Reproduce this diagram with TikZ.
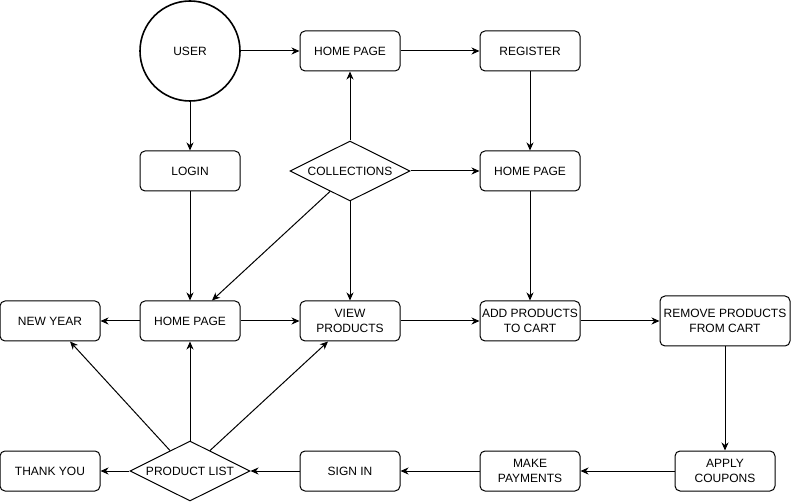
\documentclass[tikz,border=0pt]{standalone}
\usepackage{fontspec}
\setmainfont{Liberation Sans}
\usepackage{tikz}
\usetikzlibrary{arrows.meta,shapes,positioning,calc}

\begin{document}
\begin{tikzpicture}[x=1pt, y=-1pt, line width=1pt,
    >={Stealth[length=8pt,width=7pt,inset=2.5pt]},
    every node/.style={font=\fontsize{12}{14.4}\selectfont, align=center},
    box/.style={draw, rectangle, rounded corners=5pt, minimum width=100pt, minimum height=40pt, inner sep=1pt},
    decision/.style={draw, diamond, aspect=2, inner sep=0pt, minimum width=120pt, minimum height=60pt}]
\useasboundingbox (0,0) rectangle (792,502);

% Start
\node[draw, circle, line width=1.6pt, minimum size=100pt] (user) at (190,51) {USER};

% Top rows
\node[box] (home1) at (350,51) {HOME PAGE};
\node[box] (register) at (530,51) {REGISTER};
\node[box] (login) at (190,171) {LOGIN};
\node[decision] (collections) at (350,171) {COLLECTIONS};
\node[box] (home2) at (530,171) {HOME PAGE};

% Middle row
\node[box] (newyear) at (50,321) {NEW YEAR};
\node[box] (home3) at (190,321) {HOME PAGE};
\node[box] (view) at (350,321) {VIEW\\PRODUCTS};
\node[box] (addcart) at (530,321) {ADD PRODUCTS\\TO CART};
\node[box, minimum width=130pt, minimum height=50pt] (remove) at (725,321) {REMOVE PRODUCTS\\FROM CART};

% Bottom row
\node[box] (thankyou) at (50,471) {THANK YOU};
\node[decision] (plist) at (190,471) {PRODUCT LIST};
\node[box] (signin) at (350,471) {SIGN IN};
\node[box] (payments) at (530,471) {MAKE\\PAYMENTS};
\node[box] (coupons) at (725,471) {APPLY\\COUPONS};

% Flows
\draw[->] (user) -- (home1);
\draw[->] (home1) -- (register);
\draw[->] (register) -- (home2);
\draw[->] (user) -- (login);
\draw[->] (collections) -- (home1);
\draw[->] (collections) -- (home2);
\draw[->] (collections) -- (view);
\draw[->] ($(collections.west)!0.67!(collections.south)$) -- ($(home3.north)+(22,0)$);
\draw[->] (login) -- (home3);
\draw[->] (home3) -- (newyear);
\draw[->] (home3) -- (view);
\draw[->] (view) -- (addcart);
\draw[->] (home2) -- (addcart);
\draw[->] (addcart) -- (remove);
\draw[->] (remove) -- (coupons);
\draw[->] (coupons) -- (payments);
\draw[->] (payments) -- (signin);
\draw[->] (signin) -- (plist);
\draw[->] (plist) -- (thankyou);
\draw[->] (plist) -- (home3);
\draw[->] ($(plist.west)!0.67!(plist.north)$) -- ($(newyear.south)+(20,0)$);
\draw[->] ($(plist.east)!0.67!(plist.north)$) -- ($(view.south)+(-22,0)$);

\end{tikzpicture}
\end{document}
